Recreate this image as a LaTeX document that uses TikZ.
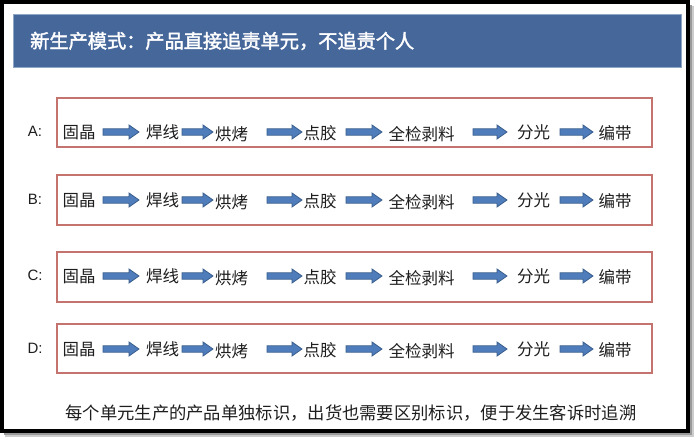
\documentclass[tikz,border=0pt]{standalone}
\usepackage{fontspec}
\setmainfont{Liberation Sans}
\newfontfamily\cjk{Noto Sans CJK SC}
\newfontfamily\cjkb[FakeBold=2]{Noto Sans CJK SC}
\definecolor{headblue}{HTML}{46679A}
\definecolor{headedge}{HTML}{8FA6C6}
\definecolor{boxred}{HTML}{C4736F}
\definecolor{arrfill}{HTML}{4F7CBA}
\definecolor{arredge}{HTML}{3A5F8F}
\definecolor{txt}{HTML}{1E1E1E}
\newcommand{\blockarr}[3]{% x1, x2, y
  \filldraw[fill=arrfill,draw=arredge,line width=0.8pt,line join=miter]
    (#1,#3-3.2) -- (#2-10,#3-3.2) -- (#2-10,#3-7) -- (#2,#3) -- (#2-10,#3+7)
    -- (#2-10,#3+3.2) -- (#1,#3+3.2) -- cycle;}
\tikzset{
  stepbox/.style={draw=boxred,line width=1.2pt},
  stagetext/.style={font=\cjk\fontsize{16.5}{18}\selectfont,text=txt,inner sep=0pt},
  rowlabel/.style={font=\fontsize{15}{17}\selectfont,text=txt,inner sep=0pt},
}
\begin{document}
\begin{tikzpicture}[x=1pt,y=-1pt]
\useasboundingbox (0,0) rectangle (700,441);
% shadow
\fill[black!20] (5,6) rectangle (694,437);
\fill[black!40] (4,5) rectangle (692,435);
% frame
\filldraw[fill=white,draw=black,line width=4pt] (2,2) rectangle (688,431);
% header
\filldraw[fill=headblue,draw=headedge,line width=0.6pt] (13,14) rectangle (681,67);
\node[anchor=west,inner sep=0pt,text=white,font=\cjkb\fontsize{19.2}{22}\selectfont] (title) at (30,41) {新生产模式：产品直接追责单元，不追责个人};
% rows
\foreach \lab/\ytop/\ybot/\yc in {A/98/147/133, B/175/225/201, C/252/302/277, D/324/373/350}{
  \draw[stepbox] (57,\ytop) rectangle (652,\ybot);
  \node[rowlabel] (lab\lab) at (35,\yc-2) {\lab:};
  \node[stagetext] (s1\lab) at (79,\yc) {固晶};
  \node[stagetext] (s2\lab) at (162.5,\yc-1) {焊线};
  \node[stagetext] (s3\lab) at (231.5,\yc+1.5) {烘烤};
  \node[stagetext] (s4\lab) at (320,\yc+0.5) {点胶};
  \node[stagetext] (s5\lab) at (421.5,\yc+1.5) {全检剥料};
  \node[stagetext] (s6\lab) at (533.5,\yc-0.5) {分光};
  \node[stagetext] (s7\lab) at (615,\yc) {编带};
  \blockarr{103}{139}{\yc-1}
  \blockarr{182}{213}{\yc-1}
  \blockarr{267}{302}{\yc-1}
  \blockarr{346}{382}{\yc-1}
  \blockarr{473}{507}{\yc-1}
  \blockarr{560}{593}{\yc-1}
}
% footer
\node[font=\cjk\fontsize{17.3}{20}\selectfont,text=txt,inner sep=0pt] (foot) at (351,413) {每个单元生产的产品单独标识，出货也需要区别标识，便于发生客诉时追溯};
\end{tikzpicture}
\end{document}
